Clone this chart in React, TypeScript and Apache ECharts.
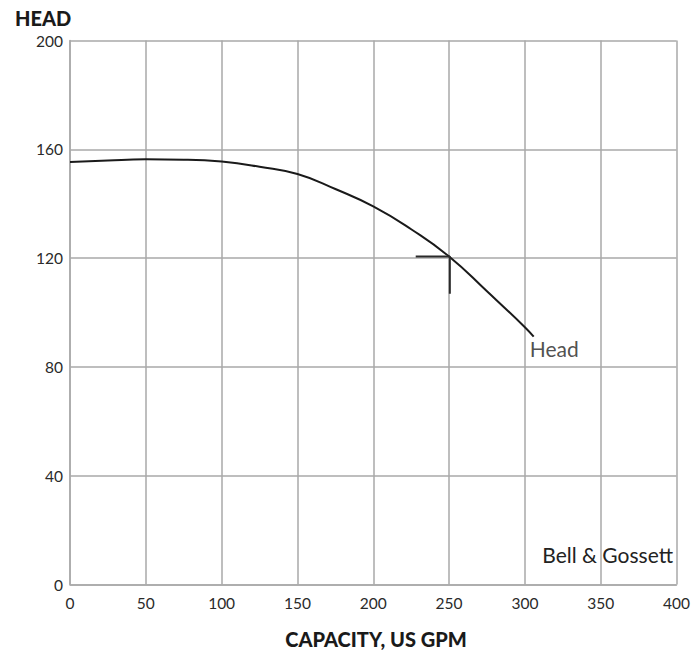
import React, { useEffect, useRef } from "react";
import * as echarts from "echarts";

const flowGpm = [0, 25, 50, 75, 100, 125, 150, 175, 200, 225, 250, 275, 300, 305.8];
const headFt = [155.3, 155.9, 156.3, 156.2, 155.5, 153.6, 150.9, 145.4, 139.0, 130.6, 120.6, 107.8, 94.6, 91.1];
const dutyFlow = [228, 250.5, 250.5];
const dutyHead = [120.6, 120.6, 106.9];
const xTicks = [0, 50, 100, 150, 200, 250, 300, 350, 400];
const yTicks = [0, 40, 80, 120, 160, 200];
const curveName = "Head";
const yTitle = "HEAD";
const xTitle = "CAPACITY, US GPM";
const brand = "Bell & Gossett";

export default function App() {
  const ref = useRef<HTMLDivElement>(null);
  useEffect(() => {
    if (!ref.current) return;
    const chart = echarts.init(ref.current, undefined, { renderer: "svg" });
    const font = "Lato, 'Noto Sans', sans-serif";
    const grid = "#a9a9a9";
    const curve = flowGpm.map((x, i) => [x, headFt[i]]);
    const duty = dutyFlow.map((x, i) => [x, dutyHead[i]]);
    const last = curve[curve.length - 1];
    chart.setOption({
      animation: false,
      backgroundColor: "#ffffff",
      grid: { left: 70, right: 11, top: 40.5, bottom: 65.5 },
      xAxis: {
        type: "value",
        min: xTicks[0],
        max: xTicks[xTicks.length - 1],
        interval: xTicks[1] - xTicks[0],
        axisLine: { show: true, lineStyle: { color: grid, width: 1.5 } },
        axisTick: { show: false },
        splitLine: { show: true, lineStyle: { color: grid, width: 1.5 } },
        axisLabel: { color: "#2a2a2a", fontFamily: font, fontSize: 15.5, margin: 10 },
      },
      yAxis: {
        type: "value",
        min: yTicks[0],
        max: yTicks[yTicks.length - 1],
        interval: yTicks[1] - yTicks[0],
        axisLine: { show: true, lineStyle: { color: grid, width: 1.5 } },
        axisTick: { show: false },
        splitLine: { show: true, lineStyle: { color: grid, width: 1.5 } },
        axisLabel: { color: "#2a2a2a", fontFamily: font, fontSize: 15.5, margin: 7 },
      },
      series: [
        {
          type: "line",
          name: curveName,
          data: curve,
          smooth: 0.5,
          showSymbol: false,
          symbol: "none",
          lineStyle: { color: "#1a1a1a", width: 2 },
          z: 3,
        },
        {
          type: "line",
          data: duty,
          showSymbol: false,
          symbol: "none",
          lineStyle: { color: "#2a2a2a", width: 2 },
          z: 3,
        },
        {
          type: "scatter",
          data: [last],
          symbolSize: 0,
          label: {
            show: true,
            formatter: curveName,
            position: "bottom",
            align: "left",
            verticalAlign: "top",
            offset: [-4, -4],
            color: "#222",
            fontFamily: font,
            fontSize: 21,
          },
          z: 4,
        },
      ],
      graphic: [
        {
          type: "text",
          left: 15,
          top: 8,
          style: { text: yTitle, fill: "#1a1a1a", font: `900 20px ${font}` },
        },
        {
          type: "text",
          x: 376,
          y: 639,
          style: {
            text: xTitle,
            fill: "#1a1a1a",
            font: `900 20px ${font}`,
            textAlign: "center",
            textVerticalAlign: "middle",
          },
        },
        {
          type: "text",
          right: 20,
          top: 544,
          style: { text: brand, fill: "#222", font: `400 21px ${font}` },
        },
      ],
    });
    return () => chart.dispose();
  }, []);
  return (
    <div
      ref={ref}
      style={{ position: "fixed", left: 0, top: 0, width: 693, height: 650, background: "#fff" }}
    />
  );
}
